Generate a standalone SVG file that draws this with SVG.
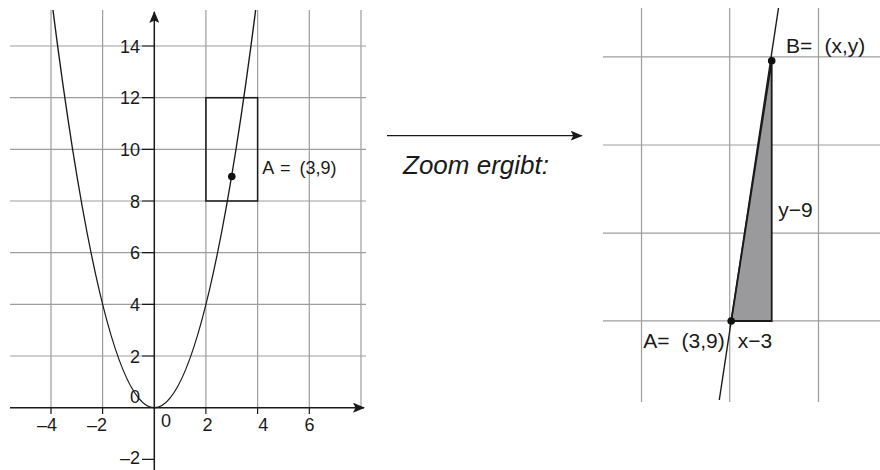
<svg xmlns="http://www.w3.org/2000/svg" width="880" height="470" viewBox="0 0 880 470">
  <style>
    .grid { stroke: #9d9d9d; stroke-width: 1.2; fill: none; }
    .axis { stroke: #1a1a1a; stroke-width: 1.5; fill: none; }
    .tick { stroke: #1a1a1a; stroke-width: 1.2; }
    .curve { stroke: #1a1a1a; stroke-width: 1.4; fill: none; }
    .lbl { font-family: "Liberation Sans", Arial, sans-serif; font-size: 18px; fill: #1a1a1a; }
    .lbl2 { font-family: "Liberation Sans", Arial, sans-serif; font-size: 21px; fill: #1a1a1a; }
    .it { font-family: "Liberation Sans", Arial, sans-serif; font-size: 26px; font-style: italic; fill: #1a1a1a; }
    .dot { fill: #111; }
  </style>
  <defs>
    <marker id="ah" viewBox="0 0 12 10" refX="11" refY="5" markerWidth="12" markerHeight="10" markerUnits="userSpaceOnUse" orient="auto">
      <path d="M0,0 L12,5 L0,10 L2.5,5 Z" fill="#1a1a1a"/>
    </marker>
  </defs>
  <rect width="880" height="470" fill="#ffffff"/>

  <g id="left-plot">
    <g id="left-grid" class="grid">
      <path d="M10,46 H366 M10,97.7 H366 M10,149.3 H366 M10,201 H366 M10,252.7 H366 M10,304.3 H366 M10,356 H366"/>
      <path d="M51,10 V408 M102.6,10 V408 M205.9,10 V408 M257.6,10 V408 M309.3,10 V408 M361,10 V408"/>
    </g>
    <g id="left-axes">
      <line class="axis" x1="10" y1="407.7" x2="364" y2="407.7" marker-end="url(#ah)"/>
      <line class="axis" x1="154.3" y1="470" x2="154.3" y2="12" marker-end="url(#ah)"/>
      <path class="tick" d="M142,46 H154.3 M142,97.7 H154.3 M142,149.3 H154.3 M142,201 H154.3 M142,252.7 H154.3 M142,304.3 H154.3 M142,356 H154.3 M142,459.4 H154.3"/>
      <path class="tick" d="M51,407.7 V414 M102.6,407.7 V414 M205.9,407.7 V414 M257.6,407.7 V414 M309.3,407.7 V414"/>
    </g>
    <g id="left-labels" class="lbl">
      <text x="140" y="52.7" text-anchor="end">14</text>
      <text x="140" y="104.4" text-anchor="end">12</text>
      <text x="140" y="156" text-anchor="end">10</text>
      <text x="140" y="207.7" text-anchor="end">8</text>
      <text x="140" y="259.4" text-anchor="end">6</text>
      <text x="140" y="311" text-anchor="end">4</text>
      <text x="140" y="362.7" text-anchor="end">2</text>
      <text x="140" y="403.3" text-anchor="end">0</text>
      <text x="140" y="463.5" text-anchor="end">–2</text>
      <text x="57" y="431" text-anchor="end">–4</text>
      <text x="107" y="431" text-anchor="end">–2</text>
      <text x="166" y="427" text-anchor="middle">0</text>
      <text x="207.5" y="431" text-anchor="middle">2</text>
      <text x="263.3" y="431" text-anchor="middle">4</text>
      <text x="309.5" y="431" text-anchor="middle">6</text>
    </g>
    <path id="parabola" class="curve" d="M52.95,10 Q154.3,805.4 255.65,10"/>
    <rect id="zoom-box" x="205.9" y="97.7" width="51.7" height="103.3" fill="none" stroke="#1a1a1a" stroke-width="1.5"/>
    <g id="point-A-left">
      <circle class="dot" cx="231.8" cy="176.5" r="3.8"/>
      <text class="lbl" y="174"><tspan x="262.3">A</tspan><tspan x="280">=</tspan><tspan x="299.5">(3,9)</tspan></text>
    </g>
  </g>

  <g id="connectors">
    <line x1="387" y1="135.7" x2="581.7" y2="135.7" stroke="#1a1a1a" stroke-width="1.3" marker-end="url(#ah)"/>
  </g>
  <text id="zoom-label" class="it" x="403" y="174">Zoom ergibt:</text>

  <g id="right-plot">
    <g id="right-grid" class="grid">
      <path d="M603,56.8 H880 M603,145 H880 M603,233.2 H880 M603,320.8 H880"/>
      <path d="M641.5,8 V402 M729.7,8 V402 M818.5,8 V402"/>
    </g>
    <polygon id="triangle" points="731.2,321 771.7,60.7 771.7,321" fill="#9a9a9d" stroke="#1a1a1a" stroke-width="1.8" stroke-linejoin="miter"/>
    <line id="secant" x1="778.5" y1="8" x2="719.3" y2="400" stroke="#1a1a1a" stroke-width="1.4"/>
    <g id="point-B">
      <circle class="dot" cx="771.7" cy="60.7" r="3.8"/>
      <text class="lbl2" y="53.3"><tspan x="786">B=</tspan><tspan x="824.5">(x,y)</tspan></text>
    </g>
    <g id="point-A-right">
      <circle class="dot" cx="731.2" cy="321" r="3.8"/>
      <text class="lbl2" y="348"><tspan x="643.3">A=</tspan><tspan x="681.5">(3,9)</tspan></text>
    </g>
    <text class="lbl2" x="778.3" y="216.7">y−9</text>
    <text class="lbl2" x="737.7" y="348">x−3</text>
  </g>
</svg>
